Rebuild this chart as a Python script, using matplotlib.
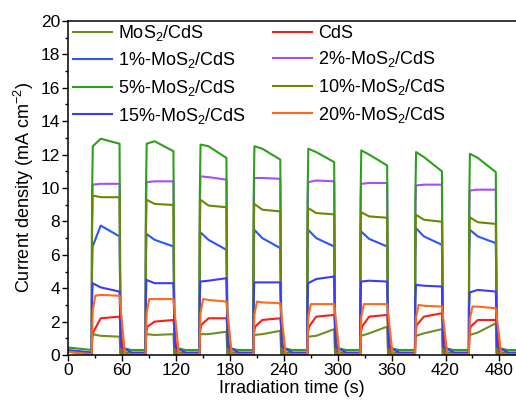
import matplotlib
matplotlib.use('Agg')
import matplotlib.pyplot as plt
from matplotlib.ticker import MultipleLocator

plt.rcParams['font.family'] = ['Liberation Sans', 'DejaVu Sans']
plt.rcParams['mathtext.fontset'] = 'custom'
plt.rcParams['mathtext.rm'] = 'Liberation Sans'
plt.rcParams['mathtext.it'] = 'Liberation Sans:italic'

# light on / off times (s)
t_on = [26, 86, 146, 206, 266, 325, 386, 446]
t_off = [57, 117, 176, 236, 296, 355, 416, 476]

# per cycle: [value just after light on, value ~10 s later, value at light off]
mos2_cds = [[1.25, 1.15, 1.1], [1.25, 1.2, 1.25], [1.25, 1.25, 1.4], [1.2, 1.25, 1.45],
            [1.1, 1.15, 1.55], [1.15, 1.3, 1.7], [1.15, 1.3, 1.55], [1.2, 1.35, 1.9]]
cds = [[1.4, 2.2, 2.3], [1.7, 2.0, 2.1], [1.8, 2.2, 2.2], [1.7, 2.1, 2.2],
       [1.7, 2.3, 2.4], [1.7, 2.3, 2.4], [1.8, 2.3, 2.5], [1.7, 2.1, 2.1]]
mos2_1 = [[6.5, 7.75, 7.1], [7.25, 6.9, 6.5], [7.35, 6.9, 6.3], [7.5, 7.0, 6.4],
          [7.5, 7.0, 6.5], [7.4, 6.95, 6.5], [7.6, 7.1, 6.6], [7.5, 7.1, 6.7]]
mos2_2 = [[10.2, 10.25, 10.25], [10.35, 10.4, 10.4], [10.7, 10.65, 10.5], [10.6, 10.6, 10.55],
          [10.35, 10.45, 10.4], [10.25, 10.3, 10.3], [10.15, 10.2, 10.2], [9.85, 9.9, 9.9]]
mos2_5 = [[12.5, 12.95, 12.65], [12.65, 12.8, 12.2], [12.6, 12.5, 11.8], [12.5, 12.35, 11.7],
          [12.35, 12.15, 11.55], [12.25, 12.0, 11.35], [12.15, 11.85, 11.0], [12.05, 11.8, 10.95]]
mos2_10 = [[9.55, 9.45, 9.45], [9.3, 9.05, 8.98], [9.3, 8.95, 8.85], [9.05, 8.7, 8.6],
           [8.8, 8.5, 8.42], [8.55, 8.3, 8.22], [8.4, 8.1, 7.98], [8.25, 7.95, 7.85]]
mos2_15 = [[4.3, 4.05, 3.8], [4.5, 4.3, 4.3], [4.4, 4.45, 4.6], [4.35, 4.35, 4.35],
           [4.3, 4.55, 4.7], [4.4, 4.45, 4.4], [4.2, 4.15, 4.1], [3.75, 3.9, 3.8]]
mos2_20 = [[3.55, 3.6, 3.55], [3.35, 3.35, 3.35], [3.35, 3.3, 3.2], [3.2, 3.15, 3.1],
           [3.05, 3.05, 3.05], [3.05, 3.05, 3.05], [3.0, 2.95, 2.9], [2.9, 2.9, 2.8]]

labels = ['MoS$_2$/CdS', 'CdS', '1%-MoS$_2$/CdS', '2%-MoS$_2$/CdS',
          '5%-MoS$_2$/CdS', '10%-MoS$_2$/CdS', '15%-MoS$_2$/CdS', '20%-MoS$_2$/CdS']
series = [mos2_cds, cds, mos2_1, mos2_2, mos2_5, mos2_10, mos2_15, mos2_20]
dark = [0.1, 0.05, 0.1, 0.05, 0.3, 0.1, 0.15, 0.05]
tail = [0.1, 0.05, 0.2, 0.05, 0.45, 0.15, 0.5, 0.05]
rise = [1.0, 2.0, 1.0, 1.0, 1.2, 1.0, 1.0, 4.0]
fall = [1.0, 4.0, 1.5, 1.0, 1.2, 1.0, 1.5, 6.0]
colors = ['#6f8f1f', '#ff1a1a', '#2a55ff', '#a64dff',
          '#2ca01c', '#688a00', '#3a3aff', '#ff6a1a']

fig = plt.figure(figsize=(5.16, 4.03), dpi=100)
ax = fig.add_axes([0.1325, 0.119, 0.8675, 0.829])

lines = []
for vals, d, tl, r, f, c, lab in zip(series, dark, tail, rise, fall, colors, labels):
    t, y = [0], [d + 0.15]
    for k in range(len(t_on)):
        s, m, e = vals[k]
        t += [t_on[k], t_on[k] + 0.3 * r, t_on[k] + r, t_on[k] + 10, t_off[k],
              t_off[k] + f, t_off[k] + f + 12]
        y += [d, d + 0.75 * (s - d), s, m, e, tl, d]
    t.append(500)
    y.append(d)
    ln, = ax.plot(t, y, color=c, lw=1.5, label=lab)
    lines.append(ln)

ax.set_xlim(0, 498.5)
ax.set_ylim(0, 20)
ax.xaxis.set_major_locator(MultipleLocator(60))
ax.xaxis.set_minor_locator(MultipleLocator(30))
ax.yaxis.set_major_locator(MultipleLocator(2))
ax.yaxis.set_minor_locator(MultipleLocator(1))
ax.tick_params(which='major', direction='out', length=4, width=1, labelsize=12.5, pad=2)
ax.tick_params(which='minor', direction='out', length=2.5, width=1)
ax.spines['right'].set_visible(False)
for sp in ax.spines.values():
    sp.set_linewidth(1.1)
ax.set_xlabel('Irradiation time (s)', fontsize=13, labelpad=1)
ax.set_ylabel('Current density (mA cm$^{-2}$)', fontsize=13, labelpad=3)

# legend is filled row by row in the reference
order = [0, 2, 4, 6, 1, 3, 5, 7]
ax.legend([lines[i] for i in order], [labels[i] for i in order],
          ncol=2, loc='upper left', frameon=False, fontsize=13,
          bbox_to_anchor=(-0.027, 1.043), handlelength=2.2, handletextpad=0.3,
          columnspacing=1.5, labelspacing=0.42)

fig.savefig('out.png', dpi=100)
